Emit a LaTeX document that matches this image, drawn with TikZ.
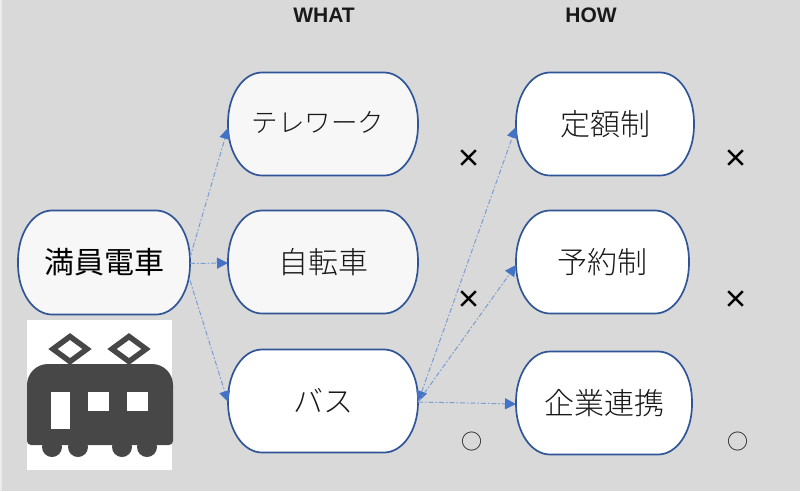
\documentclass[tikz,border=0pt]{standalone}
\usepackage{fontspec}
\setmainfont{Liberation Sans}
\newfontfamily\jpfont{Noto Sans CJK JP}
\newfontfamily\jpfontl{Noto Sans CJK JP Light}
\newfontfamily\jpfontb{Noto Sans CJK JP Bold}
\usetikzlibrary{arrows.meta}
\definecolor{bg}{HTML}{D9D9D9}
\definecolor{edge}{HTML}{2F5597}
\definecolor{arr}{HTML}{4472C4}
\definecolor{offw}{HTML}{F7F7F7}
\definecolor{ink}{HTML}{474747}
\makeatletter
\pgfdeclareshape{pillshape}{
  \inheritsavedanchors[from=rectangle]
  \inheritanchorborder[from=rectangle]
  \inheritanchor[from=rectangle]{center}
  \inheritanchor[from=rectangle]{north}
  \inheritanchor[from=rectangle]{south}
  \inheritanchor[from=rectangle]{east}
  \inheritanchor[from=rectangle]{west}
  \backgroundpath{
    \southwest \pgf@xa=\pgf@x \pgf@ya=\pgf@y
    \northeast \pgf@xb=\pgf@x \pgf@yb=\pgf@y
    \pgfpathmoveto{\pgfpoint{\pgf@xa+34pt}{\pgf@yb}}
    \pgfpathlineto{\pgfpoint{\pgf@xb-34pt}{\pgf@yb}}
    \pgfpatharc{90}{0}{34pt and 50pt}
    \pgfpathlineto{\pgfpoint{\pgf@xb}{\pgf@ya+50pt}}
    \pgfpatharc{0}{-90}{34pt and 50pt}
    \pgfpathlineto{\pgfpoint{\pgf@xa+34pt}{\pgf@ya}}
    \pgfpatharc{270}{180}{34pt and 50pt}
    \pgfpathlineto{\pgfpoint{\pgf@xa}{\pgf@yb-50pt}}
    \pgfpatharc{180}{90}{34pt and 50pt}
    \pgfpathclose
  }
}
\makeatother
\tikzset{
 pill/.style={shape=pillshape,draw=edge,line width=1.7pt,inner sep=0pt,outer sep=0pt,text=black!90,
   font=\jpfontl\fontsize{30}{30}\selectfont},
 tip/.tip={Triangle[length=11pt,width=11pt,color=arr,fill=arr]},
 conn/.style={draw=arr!70!white,line width=1pt,dash pattern=on 5pt off 2pt on 1.5pt off 2pt,-tip},
 head/.style={font=\bfseries\fontsize{21}{21}\selectfont,text=black!90},
 markx/.style={font=\jpfontb\fontsize{25}{25}\selectfont,text=black},
 marko/.style={font=\jpfont\fontsize{21}{21}\selectfont,text=black!90},
}
\begin{document}
\begin{tikzpicture}[x=1pt,y=-1pt]
\useasboundingbox (0,0) rectangle (800,491);
\fill[bg] (0,0) rectangle (800,491);
\fill[white!50!bg] (0,0) rectangle (1.5,491);
\node[head] (what) at (324,15) {WHAT};
\node[head] (how) at (591,15) {HOW};
\node[pill,fill=offw,minimum width=172pt,minimum height=104pt,font=\jpfont\fontsize{30}{30}\selectfont,text=black] (crowd) at (104,262.5) {満員電車};
\node[pill,fill=offw,minimum width=190pt,minimum height=103pt] (tele) at (323,124) {};
\node[text=black!90,font=\jpfontl\fontsize{26.5}{26.5}\selectfont,inner sep=0pt] (teletext) at (318,122) {テレワーク};
\node[pill,fill=offw,minimum width=190pt,minimum height=103pt] (bike) at (323,262) {自転車};
\node[pill,fill=white,minimum width=190pt,minimum height=103pt] (bus) at (323,401) {バス};
\node[pill,fill=white,minimum width=178pt,minimum height=103pt] (flat) at (605,124) {定額制};
\node[pill,fill=white,minimum width=173pt,minimum height=103pt] (res) at (602.5,262) {予約制};
\node[pill,fill=white,minimum width=176pt,minimum height=103pt] (corp) at (604,403) {企業連携};
\coordinate (c1) at ([yshift=5pt]crowd.east);
\coordinate (c2) at ([yshift=-1pt]crowd.east);
\coordinate (c3) at ([yshift=-18pt]crowd.east);
\draw[conn] (c1) -- ([yshift=-4pt]tele.west);
\draw[conn] (c2) -- ([yshift=-1pt]bike.west);
\draw[conn] (c3) -- ([yshift=-1pt]bus.west);
\coordinate (bs) at ([yshift=-1pt]bus.east);
\draw[conn,tip-tip] (bs) -- ([yshift=-3pt]flat.west);
\draw[conn] (bs) -- ([yshift=-3pt]res.west);
\draw[conn] (bs) -- ([yshift=-1pt]corp.west);
\node[markx] (x1) at (469,159) {×};
\node[markx] (x2) at (469,300) {×};
\node[markx] (x3) at (736,159) {×};
\node[markx] (x4) at (736,300) {×};
\node[marko] (o1) at (471.5,442) {○};
\node[marko] (o2) at (738,442) {○};
% train icon
\fill[white] (27,320) rectangle (172,470);
\draw[ink,line width=5.5pt] (70,336.5) -- (87,349) -- (70,361.5) -- (53,349) -- cycle;
\draw[ink,line width=5.5pt] (129,336.5) -- (146,349) -- (129,361.5) -- (112,349) -- cycle;
\fill[ink] (27,441) -- (27,385) arc[start angle=180,end angle=270,radius=21] -- (152,364) arc[start angle=270,end angle=360,radius=21] -- (173,441) arc[start angle=0,end angle=90,radius=4] -- (31,445) arc[start angle=90,end angle=180,radius=4] -- cycle;
\foreach \wx in {52,78,122,147} \fill[ink] (\wx,447) circle[radius=10];
\fill[white] (51,392) rectangle (70,429);
\fill[white] (88,392) rectangle (109,411);
\fill[white] (127,392) rectangle (148,411);
\end{tikzpicture}
\end{document}
